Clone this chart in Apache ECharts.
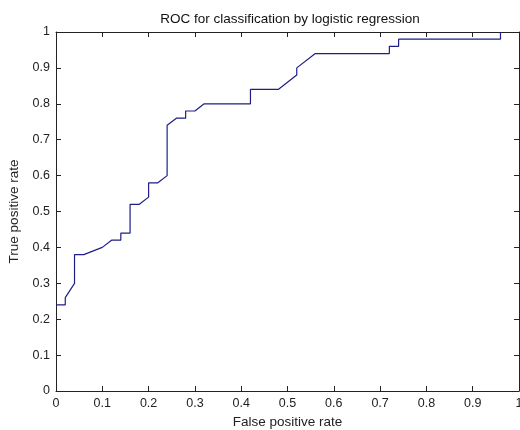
<!DOCTYPE html>
<html lang="en">
<head>
    <meta charset="UTF-8">
    <title>ROC</title>
    <script src="https://cdn.jsdelivr.net/npm/echarts@6/dist/echarts.min.js"></script>
</head>
<style>
    html,body{
        margin:0;
        padding:0;
        background:#fff;
    }
    #chart{
        width:520px;
        height:430px;
    }
</style>
<body>
    <div id="chart"></div>
    <script>
        // ROC curve
        var fpr = [0, 0.02, 0.02, 0.04, 0.04, 0.06, 0.10, 0.12, 0.14, 0.14, 0.16, 0.16, 0.18, 0.20, 0.20, 0.22, 0.24, 0.24,
                   0.26, 0.28, 0.28, 0.30, 0.32, 0.42, 0.42, 0.48, 0.50, 0.52, 0.52, 0.56, 0.72, 0.72, 0.74, 0.74, 0.96, 0.96];
        var tpr = [0.24, 0.24, 0.26, 0.30, 0.38, 0.38, 0.40, 0.42, 0.42, 0.44, 0.44, 0.52, 0.52, 0.54, 0.58, 0.58, 0.60, 0.74,
                   0.76, 0.76, 0.78, 0.78, 0.80, 0.80, 0.84, 0.84, 0.86, 0.88, 0.90, 0.94, 0.94, 0.96, 0.96, 0.98, 0.98, 1.0];
        var titleText = 'ROC for classification by logistic regression';
        var xName = 'False positive rate';
        var yName = 'True positive rate';

        var pts = fpr.map(function(x, i){ return [x, tpr[i]]; });
        var font = 'Liberation Sans, Arial, sans-serif';
        var fmt = function(v){ return v === 0 || v === 1 ? String(v) : v.toFixed(1); };

        function axis(pos, primary){
            return {
                type: 'value',
                position: pos,
                min: 0,
                max: 1,
                interval: 0.1,
                axisLine: {show: true, onZero: false, lineStyle: {color: '#222', width: 1}},
                axisTick: {show: true, inside: true, length: 5, lineStyle: {color: '#222'}},
                axisLabel: {show: primary, color: '#222', fontSize: 12.5, fontFamily: font, formatter: fmt,
                            margin: pos === 'bottom' ? 6 : 6},
                splitLine: {show: false}
            };
        }

        var chart = echarts.init(document.getElementById('chart'));
        var xb = axis('bottom', true);
        xb.name = xName;
        xb.nameLocation = 'middle';
        xb.nameGap = 24;
        xb.nameTextStyle = {color: '#222', fontSize: 13.5, fontFamily: font};
        var yl = axis('left', true);
        yl.name = yName;
        yl.nameLocation = 'middle';
        yl.nameGap = 35;
        yl.nameTextStyle = {color: '#222', fontSize: 13.5, fontFamily: font};

        chart.setOption({
            animation: false,
            title: {
                text: titleText,
                left: 285,
                textAlign: 'center',
                top: 7,
                textStyle: {color: '#111', fontSize: 13.5, fontWeight: 'normal', fontFamily: font}
            },
            grid: {left: 56, right: 1, top: 32, bottom: 39, containLabel: false, outerBoundsMode: 'none'},
            xAxis: [xb, axis('top', false)],
            yAxis: [yl, axis('right', false)],
            series: [{
                type: 'line',
                data: pts,
                showSymbol: false,
                lineStyle: {color: '#1e1e86', width: 1.2}
            }]
        });
    </script>
</body>
</html>
